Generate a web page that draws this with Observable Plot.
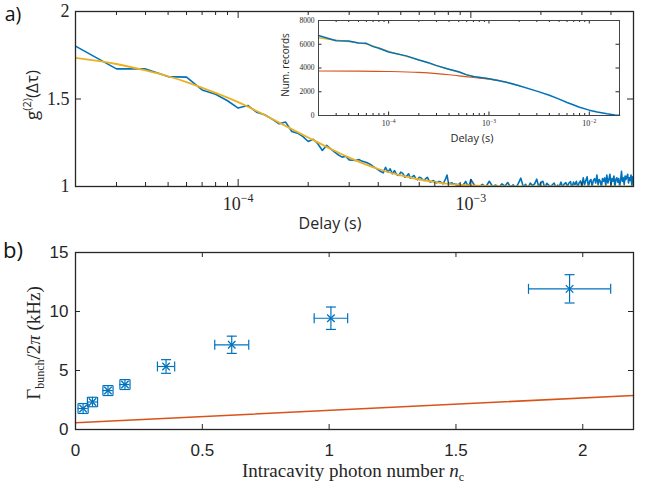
<!DOCTYPE html>
<html><head><meta charset="utf-8">
<script src="https://cdn.jsdelivr.net/npm/d3@7"></script>
<script src="https://cdn.jsdelivr.net/npm/@observablehq/plot@0.6"></script>
<style>
body{margin:0;background:#fff}
#chart{position:relative;width:655px;height:487px;overflow:hidden;background:#fff}
#chart svg{position:absolute;overflow:visible;background:transparent}
</style>
</head><body><div id="chart"></div>
<script>
// ---------- Panel a: g2 vs delay ----------
const g2EarlyDelaysUs = [20,30,40,50,60,70,80,90,100,110,120,130,140,150,160,170,180,190,200,210,220,230,240,250];
const g2Early = [1.802,1.672,1.672,1.628,1.625,1.552,1.527,1.49,1.448,1.463,1.425,1.41,1.385,1.358,1.368,1.314,1.305,1.285,1.257,1.27,1.244,1.206,1.235,1.215];
const g2MidDelaysUs = d3.range(260, 1001, 10);
const g2Mid = [1.196,1.18,1.168,1.173,1.152,1.15,1.149,1.154,1.145,1.14,
  1.135,1.126,1.115,1.105,1.095,1.086,1.078,1.11,1.082,1.101,
  1.073,1.091,1.068,1.063,1.082,1.075,1.053,1.06,1.073,1.048,
  1.055,1.063,1.045,1.038,1.053,1.05,1.04,1.034,1.045,1.053,
  1.035,1.025,1.03,1.034,1.028,1.021,1.024,1.029,1.027,1.02,
  1.015,1.03,1.045,1.065,1.025,1.015,1.018,1.021,1.012,1.016,
  1.01,1.013,0.998,1.015,1.01,1.006,0.996,1.012,1.02,1.029,
  1.015,1.01,1.005,1.018,1.04];
const g2TailDelaysUs = d3.range(1040, 5001, 40);
const g2Tail = [1.004,0.995,1.012,0.998,1.03, 1.0,1.008,0.994,1.015,1.002,
  1.023,0.996,1.01,0.992,1.018, 1.048,0.998,1.012,0.99,1.02,
  1.005,1.015,1.042,0.995,1.025, 1.03,0.99,1.018,1.008,0.995,
  1.01,1.02,0.992,1.008,1.0, 1.025,0.995,1.015,1.022,1.0,
  1.02,1.028,0.99,1.025,1.01, 1.03,0.995,1.022,1.032,1.0,
  1.05,1.01,1.035,1.055,0.995, 1.03,1.04,1.0,1.035,1.045,
  1.02,1.065,1.01,1.04,1.03, 0.995,1.045,1.03,1.05,1.005,
  1.065,1.02,1.04,1.07,1.01, 1.045,1.03,1.06,0.995,1.04,
  1.05,1.025,1.045,1.0,1.035, 1.087,1.03,1.05,1.01,1.06,
  1.04,1.055,1.07,1.02,1.05, 1.035,1.065,1.0,1.055,1.045];
const fitDelaysUs = [20,30,40,50,60,80,100,125,150,200,250,300,350,400,500,600,700,800,1000,1500,5000];
const fitG2 = [1.735,1.70,1.663,1.63,1.597,1.535,1.482,1.42,1.365,1.28,1.215,1.165,1.128,1.10,1.063,1.04,1.025,1.015,1.006,1.0,1.0];
const aXMajor = [1e-4, 1e-3];
const aXMajorLabels = ["10^\u22124", "10^\u22123"];
const aXMinor = [2e-5,3e-5,4e-5,5e-5,6e-5,7e-5,8e-5,9e-5,2e-4,3e-4,4e-4,5e-4,6e-4,7e-4,8e-4,9e-4,2e-3,3e-3,4e-3,5e-3];
const aYTicks = [1, 1.5, 2];
const aYLabels = ["1", "1.5", "2"];

// ---------- Inset: number of records ----------
const insetDelay = [2e-5,3e-5,4e-5,5e-5,6e-5,7e-5,8e-5,1e-4,1.5e-4,2e-4,2.5e-4,3e-4,4e-4,5e-4,6e-4,7e-4,1e-3,1.5e-3,2e-3,3e-3,4e-3,5e-3,6e-3,7e-3,8e-3,1e-2,1.2e-2,1.5e-2,1.8e-2,2e-2];
const insetCounts = [6740,6300,6270,6100,6080,5800,5660,5350,5020,4680,4450,4200,3900,3680,3420,3280,3100,2800,2500,2050,1700,1380,1100,880,700,450,290,140,50,15];
const insetFitDelay = [2e-5,3e-5,4e-5,5e-5,6e-5,8e-5,1e-4,1.5e-4,2e-4,3e-4,5e-4,7e-4,1e-3,2e-3];
const insetFit = [6550,6350,6230,6120,6020,5700,5400,4980,4680,4200,3650,3300,3100,2520];
const insetBgDelay = [2e-5,5e-5,1e-4,2e-4,3e-4,4e-4,5e-4,7e-4,1e-3,1.3e-3];
const insetBg = [3750,3740,3710,3630,3530,3430,3340,3200,3060,2920];
const inXMajor = [1e-4, 1e-3, 1e-2];
const inXMajorLabels = ["10^\u22124", "10^\u22123", "10^\u22122"];
const inXMinor = [2e-5,3e-5,4e-5,5e-5,6e-5,7e-5,8e-5,9e-5,2e-4,3e-4,4e-4,5e-4,6e-4,7e-4,8e-4,9e-4,2e-3,3e-3,4e-3,5e-3,6e-3,7e-3,8e-3,9e-3,2e-2];
const inYTicks = [0,2000,4000,6000,8000];

// ---------- Panel b: bunching rate vs photon number ----------
const nc = [0.03, 0.067, 0.128, 0.195, 0.357, 0.616, 1.007, 1.948];
const ncErr = [0.02, 0.02, 0.02, 0.02, 0.034, 0.067, 0.066, 0.162];
const gammaBunch = [1.78, 2.33, 3.3, 3.81, 5.34, 7.18, 9.43, 11.92];
const gammaErr = [0.42, 0.4, 0.42, 0.42, 0.58, 0.73, 0.95, 1.2];
const modelNc = [0, 2.2];
const modelGamma = [0.57, 2.88];
const bXTicks = [0, 0.5, 1, 1.5, 2];
const bXLabels = ["0", "0.5", "1", "1.5", "2"];
const bYTicks = [0, 5, 10, 15];
const bYLabels = ["0", "5", "10", "15"];

// ---------- styles ----------
const BLUE = "#0072BD", ORANGE = "#EDB120", RED = "#D95319", AX = "#262626";
const SERIF = "Liberation Serif, DejaVu Serif, serif";
const SANS = "Open Sans, Noto Sans, sans-serif";
const HELV = "Liberation Sans, Arial, sans-serif";

function xTickMarks(values, len, H) {
  return [Plot.ruleX(values, {insetTop: H - len, stroke: AX, strokeWidth: 1}),
          Plot.ruleX(values, {insetBottom: H - len, stroke: AX, strokeWidth: 1})];
}
function yTickMarks(values, len, W) {
  return [Plot.ruleY(values, {insetRight: W - len, stroke: AX, strokeWidth: 1}),
          Plot.ruleY(values, {insetLeft: W - len, stroke: AX, strokeWidth: 1})];
}
function supify(svg, supSize, rise) {
  d3.select(svg).selectAll("text").each(function() {
    const t = this.textContent;
    if (!t.includes("^")) return;
    const [b, e] = t.split("^");
    const s = d3.select(this);
    s.text(null);
    s.append("tspan").text(b);
    s.append("tspan").attr("dy", -rise).attr("font-size", supSize).text(e);
  });
}
const chart = document.getElementById("chart");
function place(svg, left, top) {
  svg.style.left = left + "px"; svg.style.top = top + "px";
  svg.style.maxWidth = "none";
  chart.appendChild(svg);
}

// ---------- build panel a ----------
const blueDelays = [...g2EarlyDelaysUs, ...g2MidDelaysUs, ...g2TailDelaysUs];
const blueVals = [...g2Early, ...g2Mid, ...g2Tail];
const blueData = blueDelays.map((u, i) => ({t: u * 1e-6, g: blueVals[i]})).filter(d => d.g != null);
const fitData = fitDelaysUs.map((u, i) => ({t: u * 1e-6, g: fitG2[i]}));

const aH = 175, aW = 558;
const panelA = Plot.plot({
  width: 655, height: 240, marginLeft: 75, marginRight: 22, marginTop: 11, marginBottom: 54,
  style: {background: "transparent"},
  x: {type: "log", domain: [2e-5, 5e-3]},
  y: {domain: [1, 2]},
  marks: [
    Plot.line(blueData, {x: "t", y: "g", stroke: BLUE, strokeWidth: 1.6, clip: true}),
    Plot.line(fitData, {x: "t", y: "g", stroke: ORANGE, strokeWidth: 1.8, curve: "monotone-x", clip: true}),
    ...xTickMarks(aXMinor, 4, aH),
    ...xTickMarks(aXMajor, 7, aH),
    ...yTickMarks(aYTicks, 6, aW),
    Plot.axisX(aXMajor, {tickSize: 0, tickPadding: 11, label: null, color: AX,
      tickFormat: d => aXMajorLabels[aXMajor.indexOf(d)], fontSize: 18, fontFamily: SERIF}),
    Plot.axisY(aYTicks, {tickSize: 0, tickPadding: 6, label: null, color: AX,
      tickFormat: d => aYLabels[aYTicks.indexOf(d)], fontSize: 18, fontFamily: SERIF}),
    Plot.frame({stroke: AX, strokeWidth: 1.3})
  ]
});
supify(panelA, 12, 8);
{
  const s = d3.select(panelA);
  s.append("text").attr("x", 330).attr("y", 229).attr("text-anchor", "middle")
    .attr("font-family", SANS).attr("font-size", 16).attr("fill", AX).text("Delay (s)");
  const yl = s.append("text").attr("transform", "translate(38,95) rotate(-90)").attr("text-anchor", "middle")
    .attr("font-family", SANS).attr("font-size", 17).attr("fill", AX);
  yl.append("tspan").text("g");
  yl.append("tspan").attr("font-size", 11).attr("dy", -7).text("(2)");
  yl.append("tspan").attr("dy", 7).text("(\u0394\u03C4)");
  s.append("text").attr("x", 13).attr("y", 21).attr("font-family", SANS).attr("font-size", 19.5)
    .attr("fill", "#111").text("a)");
}
place(panelA, 0, 0);

// ---------- build inset ----------
const inData = insetDelay.map((t, i) => ({t, n: insetCounts[i]}));
const inFit = insetFitDelay.map((t, i) => ({t, n: insetFit[i]}));
const inBg = insetBgDelay.map((t, i) => ({t, n: insetBg[i]}));
const iH = 95, iW = 301;
const inset = Plot.plot({
  width: 360, height: 140, marginLeft: 48, marginRight: 11, marginTop: 10, marginBottom: 35,
  style: {background: "transparent"},
  x: {type: "log", domain: [2e-5, 2e-2]},
  y: {domain: [0, 8000]},
  marks: [
    Plot.frame({fill: "white", stroke: null}),
    Plot.line(inBg, {x: "t", y: "n", stroke: RED, strokeWidth: 1.1, curve: "monotone-x"}),
    Plot.line(inFit, {x: "t", y: "n", stroke: ORANGE, strokeWidth: 1.3, curve: "monotone-x"}),
    Plot.line(inData, {x: "t", y: "n", stroke: BLUE, strokeWidth: 1.5}),
    ...xTickMarks(inXMinor, 2, iH),
    ...xTickMarks(inXMajor, 3.5, iH),
    ...yTickMarks(inYTicks, 3.5, iW),
    Plot.axisX(inXMajor, {tickSize: 0, tickPadding: 5, label: null, color: AX,
      tickFormat: d => inXMajorLabels[inXMajor.indexOf(d)], fontSize: 8, fontFamily: SERIF}),
    Plot.axisY(inYTicks, {tickSize: 0, tickPadding: 4, label: null, color: AX,
      tickFormat: d => String(d), fontSize: 7.5, fontFamily: SERIF}),
    Plot.frame({stroke: "#444", strokeWidth: 1})
  ]
});
supify(inset, 5.5, 3.5);
{
  const s = d3.select(inset);
  s.append("text").attr("x", 202).attr("y", 132).attr("text-anchor", "middle")
    .attr("font-family", SANS).attr("font-size", 11).attr("fill", AX).text("Delay (s)");
  s.append("text").attr("transform", "translate(19,55) rotate(-90)").attr("text-anchor", "middle")
    .attr("font-family", SANS).attr("font-size", 10).attr("fill", AX).text("Num. records");
}
place(inset, 270, 10);

// ---------- build panel b ----------
const pts = nc.map((x, i) => ({x, xe: ncErr[i], y: gammaBunch[i], ye: gammaErr[i]}));
const model = modelNc.map((x, i) => ({x, y: modelGamma[i]}));
const capV = {draw(ctx, size) { const r = Math.sqrt(size / Math.PI); ctx.moveTo(0, -r); ctx.lineTo(0, r); }};
const capH = {draw(ctx, size) { const r = Math.sqrt(size / Math.PI); ctx.moveTo(-r, 0); ctx.lineTo(r, 0); }};
const bH = 177, bW = 558;
const panelB = Plot.plot({
  width: 655, height: 247, marginLeft: 75, marginRight: 22, marginTop: 12, marginBottom: 58,
  style: {background: "transparent"},
  x: {domain: [0, 2.2]},
  y: {domain: [0, 15]},
  marks: [
    Plot.line(model, {x: "x", y: "y", stroke: RED, strokeWidth: 1.6}),
    Plot.ruleY(pts, {y: "y", x1: d => d.x - d.xe, x2: d => d.x + d.xe, stroke: BLUE, strokeWidth: 1.2}),
    Plot.ruleX(pts, {x: "x", y1: d => d.y - d.ye, y2: d => d.y + d.ye, stroke: BLUE, strokeWidth: 1.2}),
    Plot.dot(pts, {x: d => d.x - d.xe, y: "y", symbol: capV, r: 5, stroke: BLUE, fill: "none", strokeWidth: 1.2}),
    Plot.dot(pts, {x: d => d.x + d.xe, y: "y", symbol: capV, r: 5, stroke: BLUE, fill: "none", strokeWidth: 1.2}),
    Plot.dot(pts, {x: "x", y: d => d.y - d.ye, symbol: capH, r: 5, stroke: BLUE, fill: "none", strokeWidth: 1.2}),
    Plot.dot(pts, {x: "x", y: d => d.y + d.ye, symbol: capH, r: 5, stroke: BLUE, fill: "none", strokeWidth: 1.2}),
    Plot.dot(pts, {x: "x", y: "y", symbol: "times", r: 3.5, stroke: BLUE, strokeWidth: 1.3}),
    ...xTickMarks(bXTicks, 5, bH),
    ...yTickMarks(bYTicks, 5, bW),
    Plot.axisX(bXTicks, {tickSize: 0, tickPadding: 14, label: null, color: AX,
      tickFormat: d => bXLabels[bXTicks.indexOf(d)], fontSize: 17, fontFamily: HELV}),
    Plot.axisY(bYTicks, {tickSize: 0, tickPadding: 7, label: null, color: AX,
      tickFormat: d => bYLabels[bYTicks.indexOf(d)], fontSize: 17, fontFamily: HELV}),
    Plot.frame({stroke: AX, strokeWidth: 1.3})
  ]
});
{
  const s = d3.select(panelB);
  const xl = s.append("text").attr("x", 353).attr("y", 237).attr("text-anchor", "middle")
    .attr("font-family", SERIF).attr("font-size", 19).attr("fill", AX);
  xl.append("tspan").text("Intracavity photon number ");
  xl.append("tspan").attr("font-style", "italic").text("n");
  xl.append("tspan").attr("font-size", 12).attr("dy", 4).text("c");
  const yl = s.append("text").attr("transform", "translate(40,103) rotate(-90)").attr("text-anchor", "middle")
    .attr("font-family", SERIF).attr("font-size", 19).attr("fill", AX);
  yl.append("tspan").text("\u0393");
  yl.append("tspan").attr("font-size", 12).attr("dy", 4).text("bunch");
  yl.append("tspan").attr("dy", -4).text("/2");
  yl.append("tspan").attr("font-style", "italic").text("\u03C0");
  yl.append("tspan").text(" (kHz)");
  s.append("text").attr("x", 13).attr("y", 18).attr("font-family", SANS).attr("font-size", 22)
    .attr("fill", "#111").text("b)");
}
place(panelB, 0, 240);
</script></body></html>
